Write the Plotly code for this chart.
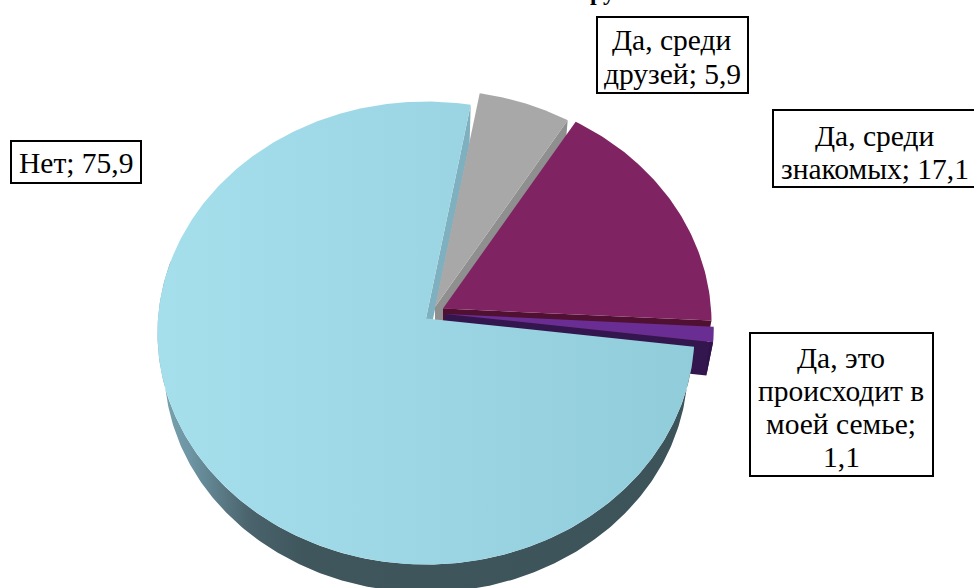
import numpy as np
import plotly.graph_objects as go

# ---- data ----
categories = ["Да, среди друзей", "Да, среди знакомых", "Да, это происходит в моей семье", "Нет"]
values = [5.9, 17.1, 1.1, 75.9]
label_lines = [
    ["Да, среди", "друзей; {}"],
    ["Да, среди", "знакомых; {}"],
    ["Да, это", "происходит в", "моей семье;", "{}"],
    ["Нет; {}"],
]
title_text = "В вашем ближнем круге"

# ---- style / layout ----
W, H = 974, 588
START_DEG = 10.2          # clockwise from the far point of the pie
A, B, P = 268.0, 230.6, 0.0627   # projection of the tilted disc
DEPTH, SHRINK = 34.0, 0.975      # thickness of the disc
apexes = [(435, 307), (443, 308.5), (445, 314), (426, 318.5)]
top_fill = ["#a8a8a8", "#7f2362", "#6a2d93", None]
rim_fill = ["#8f8f8f", "#561034", "#2f1249", None]
edge_fill = ["#8f8f8f", "#4f1032", "#34164f", "#7fb0bf"]
big_surface = [[0, "#a5dfec"], [0.5, "#9cd6e5"], [1, "#91ccdb"]]
big_rim = [[0, "#7ba4b1"], [0.06, "#6d95a3"], [0.17, "#4a636c"], [0.27, "#3f565d"], [1, "#3d535a"]]
boxes = [(597, 17, 748, 93), (773, 110, 980, 187), (750, 333, 933, 476), (11, 141, 141, 183)]
first_baseline_mid = [40, 136, 358, 163]
line_step = [33.5, 33, 33, 0]
text_cx = [672, 875, 841, 76]
FONT = "Liberation Serif"
FONT_SIZE = 29.5


def project(t_deg, apex, bottom=False):
    t = np.radians(t_deg)
    X, Y = np.sin(t), np.cos(t)
    w = 1 + P * Y
    k = SHRINK if bottom else 1.0
    ax, ay = apex
    if bottom:
        ay = ay + DEPTH
    return ax + k * A * X / w, ay - k * B * Y / w


def poly(fig, xs, ys, color=None, grad=None, start=None, stop=None):
    kw = dict(x=list(xs), y=list(ys), mode="lines", fill="toself",
              line=dict(width=0), hoverinfo="skip", showlegend=False)
    if grad:
        fg = dict(type="horizontal", colorscale=grad)
        if start is not None:
            fg.update(start=start, stop=stop)
        kw["fillgradient"] = fg
    else:
        kw["fillcolor"] = color
    fig.add_trace(go.Scatter(**kw))


fig = go.Figure()

spans = [v / sum(values) * 360 for v in values]
starts = START_DEG + np.concatenate([[0], np.cumsum(spans)[:-1]])
ends = starts + np.array(spans)

# back to front: radial inner edge of the big slice first
big = 3
bx1, by1 = project(ends[big], apexes[big])
bx2, by2 = project(ends[big], apexes[big], True)
abx, aby = apexes[big]
poly(fig, [abx, bx1, bx2, abx], [aby, by1, by2, aby + DEPTH], edge_fill[big])

for i in range(3):
    ts = np.linspace(starts[i], ends[i], 60)
    ax, ay = apexes[i]
    ex1, ey1 = project(ends[i], apexes[i])
    ex2, ey2 = project(ends[i], apexes[i], True)
    # radial wall on the trailing side
    poly(fig, [ax, ex1, ex2, ax], [ay, ey1, ey2, ay + DEPTH], edge_fill[i])
    if i == 2:
        tx, ty = project(ts, apexes[i])
        bx, by = project(ts, apexes[i], True)
        poly(fig, np.r_[tx, bx[::-1]], np.r_[ty, by[::-1]], rim_fill[i])
    tx, ty = project(ts, apexes[i])
    poly(fig, np.r_[ax, tx, ax], np.r_[ay, ty, ay], top_fill[i])

# big slice: rim, then surface
ts = np.linspace(starts[big], ends[big], 400)
rim_ts = ts[ts < 285]
tx, ty = project(rim_ts, apexes[big])
bx, by = project(rim_ts, apexes[big], True)
poly(fig, np.r_[tx, bx[::-1]], np.r_[ty, by[::-1]], grad=big_rim)
tx, ty = project(ts, apexes[big])
poly(fig, np.r_[abx, tx, abx], np.r_[aby, ty, aby], grad=big_surface)

# label boxes and text
shapes, annos = [], []
for i, lines in enumerate(label_lines):
    x0, y0, x1, y1 = boxes[i]
    shapes.append(dict(type="rect", xref="x", yref="y", x0=x0, y0=y0, x1=x1, y1=y1,
                       line=dict(color="black", width=2), fillcolor="white", layer="above"))
    val = f"{values[i]:.1f}".replace(".", ",")
    for j, ln in enumerate(lines):
        annos.append(dict(x=text_cx[i], y=first_baseline_mid[i] + j * line_step[i],
                          xref="x", yref="y", text=ln.format(val), showarrow=False,
                          xanchor="center", yanchor="middle",
                          font=dict(family=FONT, size=FONT_SIZE, color="black")))

annos.append(dict(x=505 / W, y=1 + 8 / H, xref="paper", yref="paper", text=f"<b>{title_text}</b>",
                  showarrow=False, xanchor="center", yanchor="middle",
                  font=dict(family=FONT, size=24, color="black")))

fig.update_layout(
    width=W, height=H, margin=dict(l=0, r=0, t=0, b=0),
    paper_bgcolor="white", plot_bgcolor="white", showlegend=False,
    xaxis=dict(range=[0, W], visible=False, fixedrange=True),
    yaxis=dict(range=[H, 0], visible=False, fixedrange=True),
    shapes=shapes, annotations=annos,
)
fig.write_html("out.html", config={"displayModeBar": False},
               post_script="document.body.style.margin='0';document.body.style.overflow='hidden';")
